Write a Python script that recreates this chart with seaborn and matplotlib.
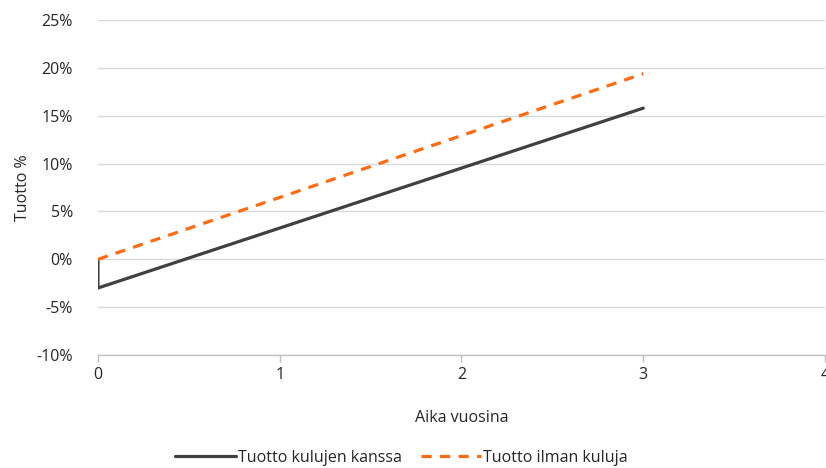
import matplotlib
matplotlib.use("Agg")
import matplotlib.pyplot as plt
import seaborn as sns
import pandas as pd
from matplotlib.ticker import FuncFormatter
from matplotlib.lines import Line2D

# Data
years_with_fees = [0, 0, 3]
return_with_fees = [0.0, -3.0, 15.8]
years_no_fees = [0, 3]
return_no_fees = [0.0, 19.4]
series_names = ["Tuotto kulujen kanssa", "Tuotto ilman kuluja"]
x_ticks = [0, 1, 2, 3, 4]
y_ticks = [-10, -5, 0, 5, 10, 15, 20, 25]

df = pd.DataFrame({
    "x": years_with_fees + years_no_fees,
    "y": return_with_fees + return_no_fees,
    "s": [series_names[0]] * len(years_with_fees) + [series_names[1]] * len(years_no_fees),
})

sns.set_theme(style="white")
plt.rcParams["font.family"] = ["Open Sans", "DejaVu Sans"]
text_color = "#262626"
dash_pat = (3.2, 2.6)

fig = plt.figure(figsize=(8.26, 4.68), dpi=100)
ax = fig.add_axes([0.1186, 0.2415, 0.8802, 0.7155])

palette = {series_names[0]: "#404040", series_names[1]: "#FF6A13"}
sns.lineplot(data=df, x="x", y="y", hue="s", style="s", palette=palette,
             dashes={series_names[0]: "", series_names[1]: dash_pat},
             estimator=None, sort=False, linewidth=2.3, ax=ax, legend=False)

ax.set_xlim(0, 4)
ax.set_ylim(-10, 25)
ax.set_xticks(x_ticks)
ax.set_yticks(y_ticks)
ax.yaxis.set_major_formatter(FuncFormatter(lambda v, p: f"{int(v)}%"))
ax.grid(axis="y", color="#d9d9d9", linewidth=1.0)
ax.set_axisbelow(True)
for side in ["top", "right", "left"]:
    ax.spines[side].set_visible(False)
ax.spines["bottom"].set_color("#bfbfbf")
ax.spines["bottom"].set_linewidth(1.0)
ax.tick_params(axis="x", bottom=True, length=5, color="#bfbfbf", width=1.0,
               labelsize=11.5, labelcolor=text_color, pad=4)
ax.tick_params(axis="y", left=False, labelsize=11.5, labelcolor=text_color, pad=12)

ax.set_xlabel("Aika vuosina", fontsize=11.5, color=text_color, labelpad=19)
ax.set_ylabel("Tuotto %", fontsize=11.5, color=text_color, labelpad=4)

handles = [
    Line2D([], [], color="#404040", linewidth=2.3),
    Line2D([], [], color="#FF6A13", linewidth=2.3, dashes=dash_pat),
]
fig.legend(handles, series_names, loc="center", bbox_to_anchor=(0.486, 0.022),
           ncol=2, frameon=False, fontsize=11.5, labelcolor=text_color,
           handlelength=3.8, handletextpad=0.1, columnspacing=1.2)

fig.savefig("out.png", dpi=100)
